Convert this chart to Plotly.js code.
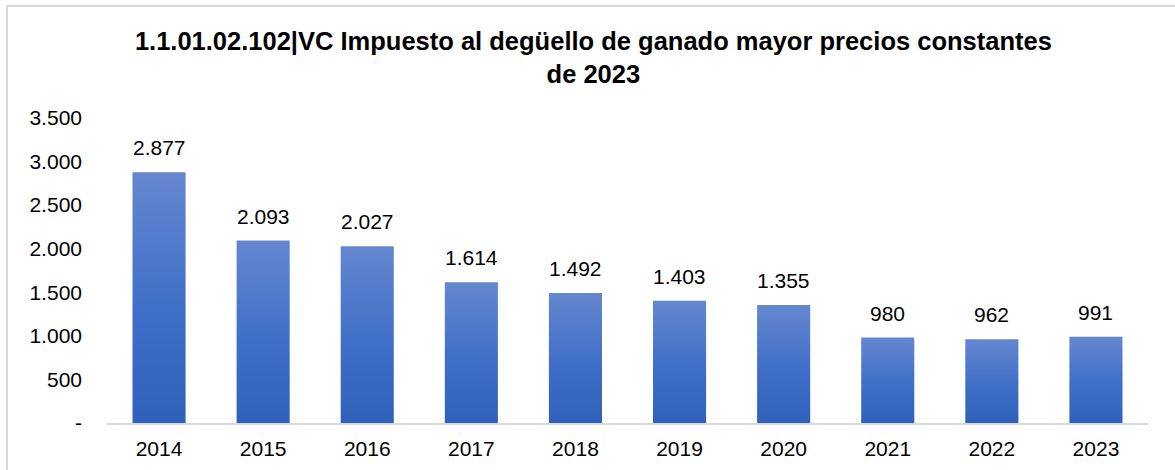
<!DOCTYPE html>
<html>
<head>
<meta charset="utf-8">
<script src="https://cdn.plot.ly/plotly-3.0.1.min.js"></script>
<style>
  html, body { margin: 0; padding: 0; background: #fff; }
  #wrap { position: relative; width: 1175px; height: 470px; overflow: hidden; }
  #chart { position: absolute; left: 0; top: 0; width: 1175px; height: 470px; }
  #frame { position: absolute; left: 6px; top: 5px; width: 1175px; height: 470px;
           border-left: 2px solid #d9d9d9; border-top: 2px solid #d9d9d9; pointer-events: none; }
</style>
</head>
<body>
<div id="wrap">
  <div id="chart"></div>
  <div id="frame"></div>
</div>
<script>
const years = ["2014", "2015", "2016", "2017", "2018", "2019", "2020", "2021", "2022", "2023"];
const values = [2877, 2093, 2027, 1614, 1492, 1403, 1355, 980, 962, 991];
const valueLabels = ["2.877", "2.093", "2.027", "1.614", "1.492", "1.403", "1.355", "980", "962", "991"];
const yTickVals = [0, 500, 1000, 1500, 2000, 2500, 3000, 3500];
const yTickText = ["-", "500", "1.000", "1.500", "2.000", "2.500", "3.000", "3.500"];
const titleText = "1.1.01.02.102|VC Impuesto al degüello de ganado mayor precios constantes<br>de 2023";

const FONT = "Liberation Sans, Arial, sans-serif";

const trace = {
  type: "bar",
  x: years,
  y: values,
  marker: { color: "#4a74c5", line: { width: 0 } },
  hoverinfo: "skip"
};

const annotations = years.map((yr, i) => ({
  x: i, y: values[i], xref: "x", yref: "y",
  text: valueLabels[i], showarrow: false,
  yanchor: "bottom", yshift: 11,
  font: { family: FONT, size: 21, color: "#000" }
}));

const layout = {
  width: 1175, height: 470,
  margin: { l: 107, r: 27, t: 118, b: 47 },
  paper_bgcolor: "rgba(0,0,0,0)",
  plot_bgcolor: "rgba(0,0,0,0)",
  showlegend: false,
  bargap: 0.49,
  title: {
    text: titleText,
    font: { family: FONT, size: 25.5, color: "#000", weight: "bold" },
    x: 0.505, xanchor: "center",
    y: 0.893, yanchor: "top", yref: "container"
  },
  xaxis: {
    type: "category",
    range: [-0.5, years.length - 0.5],
    showgrid: false, zeroline: false,
    showline: true, linecolor: "#d9d9d9", linewidth: 2,
    ticks: "", ticklabelstandoff: 6,
    tickfont: { family: FONT, size: 21, color: "#000" }
  },
  yaxis: {
    range: [0, 3500],
    tickvals: yTickVals, ticktext: yTickText,
    showgrid: false, zeroline: false, showline: false,
    ticks: "", ticklabelstandoff: 24,
    tickfont: { family: FONT, size: 21, color: "#000" }
  },
  annotations: annotations
};

Plotly.newPlot("chart", [trace], layout, { staticPlot: true, displayModeBar: false }).then(gd => {
  const svg = gd.querySelector("svg.main-svg");
  const ns = "http://www.w3.org/2000/svg";
  let defs = svg.querySelector("defs");
  if (!defs) { defs = document.createElementNS(ns, "defs"); svg.insertBefore(defs, svg.firstChild); }
  const grad = document.createElementNS(ns, "linearGradient");
  grad.setAttribute("id", "barGrad");
  grad.setAttribute("x1", "0"); grad.setAttribute("y1", "0");
  grad.setAttribute("x2", "0"); grad.setAttribute("y2", "1");
  [["0%", "#6587cf"], ["55%", "#3f6fc8"], ["100%", "#2f61bb"]].forEach(([o, c]) => {
    const s = document.createElementNS(ns, "stop");
    s.setAttribute("offset", o); s.setAttribute("stop-color", c);
    grad.appendChild(s);
  });
  defs.appendChild(grad);
  gd.querySelectorAll(".trace.bars .point path").forEach(p => {
    p.style.fill = "url(#barGrad)";
  });
});
</script>
</body>
</html>
